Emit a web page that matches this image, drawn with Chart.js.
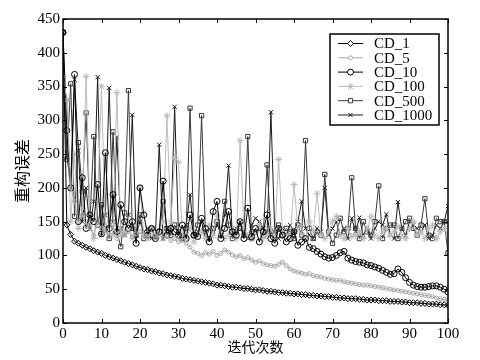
<!DOCTYPE html>
<html lang="zh">
<head>
<meta charset="UTF-8">
<title>重构误差</title>
<script src="https://cdn.jsdelivr.net/npm/chart.js"></script>
<style>
  body { margin: 0; background: #fff; }
  #wrap { width: 480px; height: 360px; }
</style>
</head>
<body>
<div id="wrap"><canvas id="myChart"></canvas></div>
<script>
// iterations 0..100
const iters = [...Array(101).keys()];
const yTicks = [0, 50, 100, 150, 200, 250, 300, 350, 400, 450];
const xTicks = [0, 10, 20, 30, 40, 50, 60, 70, 80, 90, 100];

const cd1 = [430,145,131,121,118,115,112,110,107,105,103,100,98,96,94,92,90,88,86,84,
  82,80,79,77,76,74,73,71,70,69,68,66,65,64,63,62,61,60,59,58,
  56,56,55,54,53,53,52,51,51,50,49,49,48,47,47,46,45,45,44,44,
  43,43,42,42,41,41,40,40,39,39,38,38,37,37,36,36,36,35,35,34,
  34,34,33,33,33,32,32,32,31,31,30,30,30,29,29,28,28,28,27,27,26];
const cd5 = [365,330,200,180,150,160,145,140,130,150,140,135,130,145,125,140,130,135,128,132,
  135,130,128,132,126,130,125,128,122,125,120,122,118,112,105,103,100,104,102,106,
  100,103,108,105,101,98,100,95,97,93,90,92,88,86,85,84,87,90,85,80,
  77,75,74,72,73,70,69,68,66,65,64,63,63,61,60,59,58,57,56,56,
  55,54,53,52,51,50,49,48,47,46,45,44,43,42,41,40,39,37,36,35,33];
const cd10 = [430,285,200,368,150,215,140,160,150,205,132,252,140,190,135,175,150,140,150,118,
  200,160,130,140,125,135,210,130,140,135,130,145,125,160,130,128,155,140,120,165,
  180,125,140,165,135,130,150,125,170,128,140,120,135,160,125,118,140,130,120,125,
  135,115,120,125,112,110,106,102,98,96,97,100,104,106,96,93,91,90,89,86,
  85,83,81,78,75,72,73,80,75,67,60,56,54,53,53,54,55,55,53,50,46];
const cd100 = [365,330,150,250,140,170,365,150,125,180,350,140,160,130,341,130,135,150,125,145,
  200,130,125,140,130,135,150,307,150,245,238,130,125,140,120,130,135,125,145,130,
  160,135,125,130,140,125,270,140,130,125,135,145,125,130,140,128,242,135,130,125,
  205,140,130,125,150,135,192,130,125,135,150,158,130,125,140,128,130,135,125,140,
  158,130,125,135,140,130,135,143,130,125,140,150,130,135,125,140,145,125,135,140,130];
const cd500 = [430,242,354,158,267,195,311,150,276,145,175,140,125,283,135,113,163,344,140,130,
  160,125,130,140,128,135,180,140,130,145,135,125,140,318,130,145,307,135,125,140,
  150,130,180,145,125,135,140,130,276,125,135,140,130,234,135,125,145,130,140,135,
  125,145,130,270,140,125,135,130,220,135,118,130,155,135,140,215,140,125,150,135,
  130,150,203,125,140,145,145,125,140,150,155,140,130,145,184,130,125,155,150,150,104];
const cd1000 = [365,250,200,360,255,150,200,140,180,364,130,160,348,150,275,140,130,160,308,130,
  150,135,140,125,130,264,125,140,135,320,130,125,145,190,130,135,150,125,140,130,
  145,135,160,233,130,140,150,135,125,145,155,150,140,130,312,135,125,140,130,145,
  135,150,180,140,130,125,140,135,200,130,140,150,130,140,125,155,135,156,130,140,
  125,140,150,145,161,130,125,179,140,130,150,145,140,135,145,125,130,145,140,150,173];

const names = ['CD_1', 'CD_5', 'CD_10', 'CD_100', 'CD_500', 'CD_1000'];
const seriesValues = [cd1, cd5, cd10, cd100, cd500, cd1000];
const colors = ['#000000', '#a8a8a8', '#000000', '#bcbcbc', '#3a3a3a', '#1a1a1a'];
const markers = ['rectRot', 'circle', 'circle', 'star', 'rect', 'crossRot'];
const sizes = [3, 2, 3, 3.5, 3, 3];

const serif = '"Liberation Serif", "DejaVu Serif", serif';
const cjk = '"Noto Sans CJK SC", sans-serif';

const datasets = seriesValues.map((vals, k) => ({
  label: names[k],
  data: vals.map((v, i) => ({ x: iters[i], y: v })),
  borderColor: colors[k],
  borderWidth: 1,
  pointStyle: markers[k],
  pointRadius: sizes[k],
  pointBorderColor: colors[k],
  pointBackgroundColor: 'rgba(255,255,255,0)',
  pointBorderWidth: 1,
  tension: 0,
  fill: false
}));

// boxed legend in the top right corner of the plot
const boxLegend = {
  id: 'boxLegend',
  afterDatasetsDraw(chart) {
    const ctx = chart.ctx;
    ctx.save();
    ctx.fillStyle = '#fff';
    ctx.fillRect(330, 34, 109, 91);
    ctx.strokeStyle = '#000';
    ctx.lineWidth = 1.5;
    ctx.strokeRect(330, 34, 109, 91);
    chart.data.datasets.forEach((ds, i) => {
      const y = 43.5 + i * 14.3;
      ctx.strokeStyle = ds.borderColor;
      ctx.lineWidth = 1;
      ctx.beginPath();
      ctx.moveTo(338, y);
      ctx.lineTo(363, y);
      ctx.stroke();
      ctx.fillStyle = '#fff';
      Chart.helpers.drawPoint(ctx, { pointStyle: ds.pointStyle, radius: ds.pointRadius, borderWidth: 1, rotation: 0 }, 350.5, y);
      ctx.fillStyle = '#000';
      ctx.font = '15px ' + serif;
      ctx.textBaseline = 'middle';
      ctx.textAlign = 'left';
      ctx.fillText(ds.label, 374, y + 1);
    });
    ctx.restore();
  }
};

// frame with inward ticks on all four sides
const frame = {
  id: 'frame',
  afterDraw(chart) {
    const { ctx, chartArea: a, scales } = chart;
    ctx.save();
    ctx.strokeStyle = '#000';
    ctx.lineWidth = 1;
    ctx.beginPath();
    xTicks.forEach(t => {
      const px = Math.round(scales.x.getPixelForValue(t)) + 0.5;
      ctx.moveTo(px, a.bottom); ctx.lineTo(px, a.bottom - 4);
      ctx.moveTo(px, a.top); ctx.lineTo(px, a.top + 4);
    });
    yTicks.forEach(t => {
      const py = Math.round(scales.y.getPixelForValue(t)) + 0.5;
      ctx.moveTo(a.left, py); ctx.lineTo(a.left + 4, py);
      ctx.moveTo(a.right, py); ctx.lineTo(a.right - 4, py);
    });
    ctx.stroke();
    ctx.lineWidth = 1.5;
    ctx.strokeRect(a.left, a.top, a.right - a.left, a.bottom - a.top);
    ctx.restore();
  }
};

new Chart(document.getElementById('myChart'), {
  type: 'line',
  data: { datasets },
  plugins: [boxLegend, frame],
  options: {
    responsive: true,
    maintainAspectRatio: false,
    animation: false,
    devicePixelRatio: 1,
    layout: { padding: { left: 0, right: 32, top: 19, bottom: 0 } },
    plugins: { legend: { display: false }, tooltip: { enabled: false } },
    scales: {
      x: {
        type: 'linear',
        min: 0, max: 100,
        afterBuildTicks: s => { s.ticks = xTicks.map(v => ({ value: v })); },
        afterFit: s => { s.height = 37; },
        grid: { display: false, drawTicks: false },
        border: { display: false },
        ticks: { padding: 2, color: '#000', font: { family: serif, size: 15 }, maxRotation: 0 },
        title: { display: true, text: '迭代次数', color: '#000', font: { family: cjk, size: 14 }, padding: { top: 0, bottom: 5 } }
      },
      y: {
        min: 0, max: 450,
        afterBuildTicks: s => { s.ticks = yTicks.map(v => ({ value: v })); },
        afterFit: s => { s.width = 63; },
        grid: { display: false, drawTicks: false },
        border: { display: false },
        ticks: { padding: 3, color: '#000', font: { family: serif, size: 15 } },
        title: { display: true, text: '重构误差', color: '#000', font: { family: cjk, size: 16 }, padding: { top: 12, bottom: 0 } }
      }
    }
  }
});
</script>
</body>
</html>
